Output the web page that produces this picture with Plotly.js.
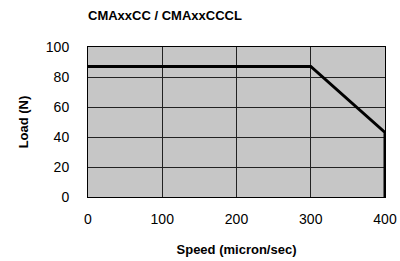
<!DOCTYPE html>
<html><head><meta charset="utf-8">
<script src="https://cdn.plot.ly/plotly-3.0.1.min.js"></script>
<style>html,body{margin:0;padding:0;background:#fff}#c{width:400px;height:261px}</style>
</head><body><div id="c"></div>
<script>
const speed = [0, 300, 400, 400];
const load = [87, 87, 43, 0];
const xTicks = [0, 100, 200, 300, 400];
const yTicks = [0, 20, 40, 60, 80, 100];

Plotly.newPlot('c', [{
  x: speed, y: load, type: 'scatter', mode: 'lines',
  line: {color: '#000', width: 3}, hoverinfo: 'skip'
}], {
  width: 400, height: 261,
  margin: {l: 88, r: 15, t: 47, b: 64},
  paper_bgcolor: '#fff', plot_bgcolor: '#c6c6c6',
  font: {family: 'Liberation Sans, Arial, sans-serif', color: '#000', size: 14},
  title: {text: '<b>CMAxxCC / CMAxxCCCL</b>', x: 88/400, xanchor: 'left', y: 0.94, yanchor: 'middle', font: {size: 13}},
  xaxis: {range: [0, 400], tickvals: xTicks, ticks: 'outside', ticklen: 9, tickcolor: 'rgba(0,0,0,0)',
    showline: true, linecolor: '#000', linewidth: 1, mirror: true,
    showgrid: true, gridcolor: '#222', gridwidth: 1, zeroline: false, tickfont: {size: 14},
    title: {text: '<b>Speed (micron/sec)</b>', font: {size: 13}, standoff: 19}},
  yaxis: {range: [0, 100], tickvals: yTicks, ticks: 'outside', ticklen: 15, tickcolor: 'rgba(0,0,0,0)',
    showline: true, linecolor: '#000', linewidth: 1, mirror: true,
    showgrid: true, gridcolor: '#222', gridwidth: 1, zeroline: false, tickfont: {size: 14},
    title: {text: '<b>Load (N)</b>', font: {size: 13}, standoff: 14}},
  showlegend: false
}, {staticPlot: true, displayModeBar: false});
</script></body></html>
